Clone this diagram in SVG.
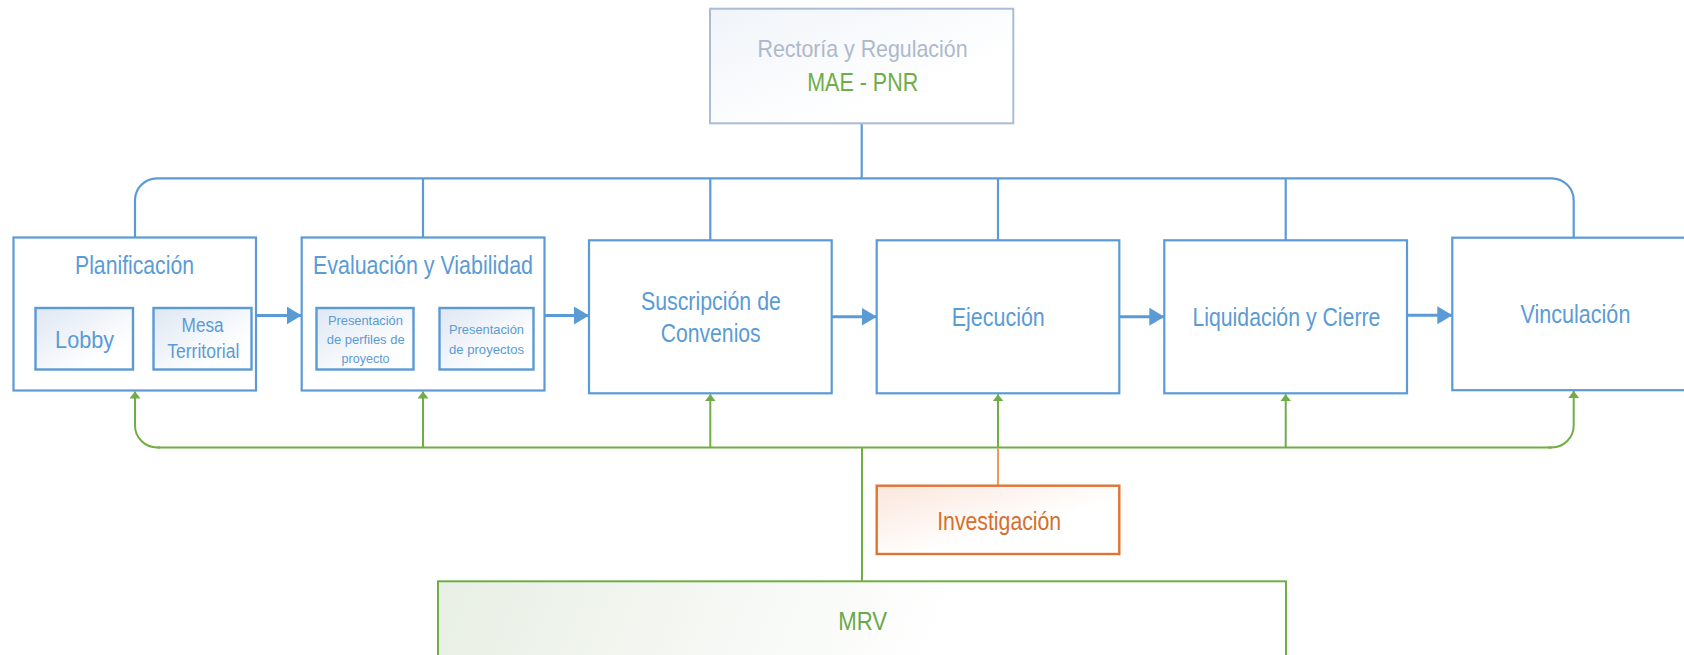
<svg xmlns="http://www.w3.org/2000/svg" width="1684" height="655" viewBox="0 0 1684 655">
<style>
  .box { fill: #ffffff; stroke: #5B9BD5; stroke-width: 2.2; }
  .sub { fill: url(#gBlue); stroke: #5B9BD5; stroke-width: 2.4; }
  .t { font-family: "Liberation Sans", Arial, sans-serif; fill: #5B9BD5; text-anchor: middle; }
  .big { font-size: 26px; }
  .blueln { fill: none; stroke: #5B9BD5; stroke-width: 2.2; }
  .arr { fill: none; stroke: #5B9BD5; stroke-width: 3; marker-end: url(#mBlue); }
  .gln { fill: none; stroke: #70AD47; stroke-width: 2; }
  .garr { fill: none; stroke: #70AD47; stroke-width: 2; marker-end: url(#mGreen); }
</style>
<defs>
  <linearGradient id="gBlue" x1="0" y1="0" x2="1" y2="1">
    <stop offset="0" stop-color="#DEE7F3"/>
    <stop offset="0.75" stop-color="#FFFFFF"/>
  </linearGradient>
  <linearGradient id="gRect" x1="0" y1="0" x2="1" y2="1">
    <stop offset="0" stop-color="#F0F4F9"/>
    <stop offset="0.7" stop-color="#FFFFFF"/>
  </linearGradient>
  <linearGradient id="gOrange" x1="0" y1="0" x2="1" y2="1">
    <stop offset="0" stop-color="#FBE6DC"/>
    <stop offset="0.6" stop-color="#FFFFFF"/>
  </linearGradient>
  <linearGradient id="gGreen" gradientUnits="userSpaceOnUse" x1="438" y1="581" x2="900" y2="760">
    <stop offset="0" stop-color="#E8EFE4"/>
    <stop offset="1" stop-color="#FFFFFF"/>
  </linearGradient>
  <marker id="mBlue" markerUnits="userSpaceOnUse" markerWidth="15" markerHeight="18" refX="15" refY="9" orient="auto">
    <path d="M0,0 L15,9 L0,18 z" fill="#5B9BD5"/>
  </marker>
  <marker id="mGreen" markerUnits="userSpaceOnUse" markerWidth="7" markerHeight="11" refX="7" refY="5.5" orient="auto">
    <path d="M0,0 L7,5.5 L0,11 z" fill="#70AD47"/>
  </marker>
</defs>

<g id="connectors">
  <path class="blueln" d="M135,237.5 V200.3 A22,22 0 0 1 157,178.3 H1551.7 A22,22 0 0 1 1573.7,200.3 V237.7"/>
  <line class="blueln" x1="861.7" y1="123.3" x2="861.7" y2="178.3"/>
  <line class="blueln" x1="423" y1="178.3" x2="423" y2="237.5"/>
  <line class="blueln" x1="710.3" y1="178.3" x2="710.3" y2="240.3"/>
  <line class="blueln" x1="998" y1="178.3" x2="998" y2="240.3"/>
  <line class="blueln" x1="1285.7" y1="178.3" x2="1285.7" y2="240.3"/>
  <line class="arr" x1="256" y1="315.5" x2="301.7" y2="315.5"/>
  <line class="arr" x1="544.5" y1="315.5" x2="589" y2="315.5"/>
  <line class="arr" x1="831.7" y1="316.7" x2="876.7" y2="316.7"/>
  <line class="arr" x1="1119.3" y1="316.7" x2="1164.3" y2="316.7"/>
  <line class="arr" x1="1407" y1="315.3" x2="1452.3" y2="315.3"/>
  <path class="gln" stroke-width="2.6" d="M157,447.5 H1551.7"/>
  <path class="garr" d="M160,447.5 H157 A22,22 0 0 1 135,425.5 V391.5"/>
  <path class="garr" d="M1548,447.5 H1551.7 A22,22 0 0 0 1573.7,425.5 V391"/>
  <line class="garr" x1="423" y1="447.5" x2="423" y2="391.5"/>
  <line class="garr" x1="710.3" y1="447.5" x2="710.3" y2="394.3"/>
  <line class="garr" x1="998" y1="447.5" x2="998" y2="394.3"/>
  <line class="garr" x1="1285.7" y1="447.5" x2="1285.7" y2="394.3"/>
  <line class="gln" stroke-width="1.6" x1="862" y1="447.5" x2="862" y2="581.3"/>
  <line fill="none" stroke="#ED7D31" stroke-width="1.6" x1="998" y1="448.5" x2="998" y2="485.7"/>
</g>

<g id="rectoria">
  <rect x="710" y="8.7" width="303.3" height="114.6" fill="url(#gRect)" stroke="#ABBCD5" stroke-width="2"/>
  <text class="t" x="862.5" y="57" font-size="24" style="fill:#ADB9CA" textLength="210" lengthAdjust="spacingAndGlyphs">Rectoría y Regulación</text>
  <text class="t" x="862.7" y="91" font-size="26" style="fill:#70AD47" textLength="111" lengthAdjust="spacingAndGlyphs">MAE - PNR</text>
</g>

<g id="planificacion">
  <rect class="box" x="13.5" y="237.5" width="242.5" height="153"/>
  <text class="t big" x="134.5" y="274" textLength="119" lengthAdjust="spacingAndGlyphs">Planificación</text>
</g>
<g id="lobby">
  <rect class="sub" x="35.5" y="308" width="97.5" height="61.5"/>
  <text class="t" x="84.6" y="348" font-size="24" textLength="59" lengthAdjust="spacingAndGlyphs">Lobby</text>
</g>
<g id="mesa">
  <rect class="sub" x="153.5" y="308" width="98" height="61.5"/>
  <text class="t" x="202.6" y="332.3" font-size="20" textLength="42" lengthAdjust="spacingAndGlyphs">Mesa</text>
  <text class="t" x="203.3" y="358.3" font-size="20" textLength="72" lengthAdjust="spacingAndGlyphs">Territorial</text>
</g>

<g id="evaluacion">
  <rect class="box" x="301.7" y="237.5" width="242.8" height="153"/>
  <text class="t big" x="423" y="274" textLength="220" lengthAdjust="spacingAndGlyphs">Evaluación y Viabilidad</text>
</g>
<g id="perfiles">
  <rect class="sub" x="316.5" y="308" width="97" height="61.5"/>
  <text class="t" x="365.4" y="325" font-size="13" textLength="75" lengthAdjust="spacingAndGlyphs">Presentación</text>
  <text class="t" x="365.7" y="344.3" font-size="13" textLength="78" lengthAdjust="spacingAndGlyphs">de perfiles de</text>
  <text class="t" x="365.6" y="362.8" font-size="13" textLength="48" lengthAdjust="spacingAndGlyphs">proyecto</text>
</g>
<g id="proyectos">
  <rect class="sub" x="439.5" y="308" width="94" height="61.5"/>
  <text class="t" x="486.5" y="334" font-size="13" textLength="75" lengthAdjust="spacingAndGlyphs">Presentación</text>
  <text class="t" x="486.5" y="354" font-size="13" textLength="75" lengthAdjust="spacingAndGlyphs">de proyectos</text>
</g>

<g id="suscripcion">
  <rect class="box" x="589" y="240.3" width="242.7" height="153"/>
  <text class="t big" x="710.9" y="310" textLength="140" lengthAdjust="spacingAndGlyphs">Suscripción de</text>
  <text class="t big" x="710.7" y="341.7" textLength="100" lengthAdjust="spacingAndGlyphs">Convenios</text>
</g>

<g id="ejecucion">
  <rect class="box" x="876.7" y="240.3" width="242.6" height="153"/>
  <text class="t big" x="998.3" y="326" textLength="93" lengthAdjust="spacingAndGlyphs">Ejecución</text>
</g>

<g id="liquidacion">
  <rect class="box" x="1164.3" y="240.3" width="242.7" height="153"/>
  <text class="t big" x="1286.4" y="326" textLength="188" lengthAdjust="spacingAndGlyphs">Liquidación y Cierre</text>
</g>

<g id="vinculacion">
  <rect class="box" x="1452.3" y="237.7" width="243" height="152.5"/>
  <text class="t big" x="1575.4" y="323" textLength="110" lengthAdjust="spacingAndGlyphs">Vinculación</text>
</g>

<g id="investigacion">
  <rect x="876.7" y="485.7" width="242.6" height="68.3" fill="url(#gOrange)" stroke="#DF7434" stroke-width="2.4"/>
  <text class="t" x="999.2" y="530" font-size="25" style="fill:#D4702F" textLength="124" lengthAdjust="spacingAndGlyphs">Investigación</text>
</g>

<g id="mrv">
  <rect x="438" y="581.3" width="848" height="120" fill="url(#gGreen)" stroke="#70AD47" stroke-width="2"/>
  <text class="t" x="862.7" y="630" font-size="26" style="fill:#6AA84F" textLength="49" lengthAdjust="spacingAndGlyphs">MRV</text>
</g>
</svg>
